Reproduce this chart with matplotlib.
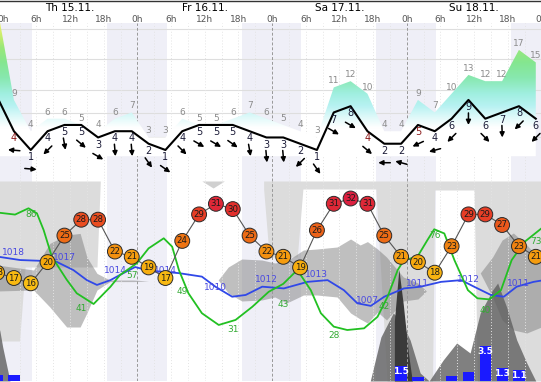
import numpy as np
import matplotlib.pyplot as plt
from matplotlib.colors import LinearSegmentedColormap, Normalize
from matplotlib.transforms import offset_copy

# hours since Thu 15.11. 0h
days = ["Th 15.11.", "Fr 16.11.", "Sa 17.11.", "Su 18.11."]
t3 = list(range(-1, 96, 3))

wind = [9.5, 4, 1, 4, 5, 5, 3, 4, 4, 2, 1, 4, 5, 5, 5, 4, 3,
        3, 2, 1, 7, 8, 4, 2, 2, 5, 4, 6, 9, 6, 7, 8, 6]
gust = [24, 9, 4, 6, 6, 5, 4, 6, 7, 3, 3, 6, 5, 5, 6, 7, 6,
        5, 4, 3, 11, 12, 10, 4, 4, 9, 7, 10, 13, 12, 12, 17, 15]
# direction the arrow points, degrees (0 = east, 90 = north)
wind_dir = [180, 175, -5, 225, 280, 320, 330, 275, 275, 305, 325, 315, 330, 330, 325, 280, 275,
            275, 225, 305, 330, 330, 320, 180, 165, 205, 195, 225, 270, 315, 272, 225, 225]
wind_red = [2, 65, 74]

temp = [18, 17, 16, 20, 25, 28, 28, 22, 21, 19, 17, 24, 29, 31, 30, 25, 22,
        21, 19, 26, 31, 32, 31, 25, 21, 20, 18, 23, 29, 29, 27, 23, 21]

precip_h = [-1, 2, 71, 74, 80, 83, 86, 89, 92]
precip = [0.6, 0.6, 1.5, 0.4, 0.5, 0.9, 3.5, 1.3, 1.1]

hum_h = [-1, 2.2, 4.6, 6.1, 7.3, 8.75, 11.4, 13.2, 16.2, 19.2, 20.9, 23.9, 26, 28.7, 30.2,
         31.4, 33.1, 35.5, 38.5, 41.5, 44.5, 47.4, 50, 52.5, 54.9, 56.7, 59, 61.4, 64.4,
         66.8, 68.6, 70.4, 71.5, 73.9, 75.7, 76.9, 78.7, 80.5, 82.9, 84.6, 86.7, 88.8,
         90.7, 93, 96]
hum = [84, 83, 86, 83.6, 75.6, 63, 52, 45.5, 40.4, 48.6, 54.2, 59.8, 66.9, 71.7, 67.7,
       56.6, 45.5, 36, 30.4, 32.8, 39.1, 46.2, 50, 56.6, 47, 36, 29.6, 28, 28.8,
       34.3, 43.9, 56.6, 61.3, 62.9, 70.9, 76, 74, 61.3, 47, 43.1, 42.6, 47,
       61.3, 70, 76.4]
hum_lab_h = [5, 14, 23, 32, 41, 50, 59, 68, 77, 86, 95]
hum_lab = [86, 41, 57, 49, 31, 43, 28, 42, 76, 40, 73]

pres_h = [-1, 3.1, 7.25, 9.6, 12.6, 15, 16.8, 19.2, 21.5, 23.6, 26, 31.4, 35.5, 37.9,
          40.9, 43.3, 46.25, 50.1, 54.3, 57.9, 60.8, 63.2, 65.6, 68, 71.5, 74.5, 78.1,
          81.7, 84, 87, 89.3, 91.6, 94.6, 96]
pres = [1018.2, 1017.4, 1017.2, 1017.0, 1015.1, 1012.8, 1011.7, 1012.8, 1014.4, 1015.8,
        1015.0, 1014.4, 1013.6, 1011.3, 1009.0, 1009.4, 1011.3, 1010.9, 1012.4, 1012.8,
        1010.5, 1007.5, 1006.9, 1009.0, 1010.9, 1011.3, 1012.4, 1012.8, 1011.3, 1009.4,
        1009.0, 1011.3, 1012.4, 1012.7]
pres_lab_h = [2, 11, 20, 29, 38, 47, 56, 65, 74, 83, 92]
pres_lab = [1018, 1017, 1014, 1014, 1010, 1012, 1013, 1007, 1011, 1012, 1011]

# cloud layers, level 0 (bottom) .. 100 (top of panel)
high_h = [-1, 3, 4, 16.8, 17.4]
high_lo = [20, 20, 57, 57, 100]
high2_h = [35.5, 37.5, 39.5]
high2_lo = [100, 96.5, 100]
high3_h = [46.5, 47.5, 52.5, 53.5, 66.5, 68.5, 76.6, 77.0, 84.0, 84.6, 97]
high3_lo = [96, 62, 62, 96, 96, 0, 0, 95.5, 95.5, 0, 0]

mid1_h = [-1, 5.5, 8.4, 11.4, 13.8, 15, 16.8, 19.1, 23.3, 26]
mid1_hi = [58, 55.5, 68.8, 73, 73.8, 62, 53.8, 50.5, 50.5, 50]
mid1_lo = [45, 45.5, 37, 27, 27, 34, 45.5, 49.7, 49.7, 50]
mid2_h = [38.4, 40.2, 42.6, 46.2, 48.5, 50.6, 53.6, 56, 59.6, 62, 63.7, 65, 66.8, 68.4,
          71.4, 74, 75.5]
mid2_hi = [50.5, 57, 61, 60.5, 59, 60, 65.5, 66, 67, 71, 68, 69.7, 66, 62, 52, 49, 45]
mid2_lo = [50.5, 44, 40, 40.5, 42, 39, 43, 43, 42, 34, 31, 29, 34.5, 30.5, 40, 41, 45]
mid3_h = [85.1, 87.3, 89, 91, 93.4, 96]
mid3_hi = [54, 62, 70.5, 74, 68, 60]
mid3_lo = [54, 42, 30.5, 25.5, 24, 27]

low_h = [-1, -0.5, 0, 1.3, 65.5, 67.4, 69.6, 71, 72.6, 74.4, 76, 78.5, 80.9, 83.3,
         85.1, 87.3, 88.2, 89.8, 91.6, 93.4, 95]
low_hi = [30, 25, 17, 0, 0, 22, 34, 30, 20.5, 4, 0, 10.5, 19, 14,
          34, 45.5, 49, 37, 20.5, 9, 0]
spike_h = [69.8, 70.6, 71.4, 72.3, 73.0]
spike_hi = [30, 56, 38, 14, 0]

X0, X1 = -0.48, 95.93
W_LIM = (-3.96, 21.3)
night = [(-2, 5.2), (18.6, 29.2), (42.6, 53.2), (66.6, 77.2), (90.6, 101)]

fig = plt.figure(figsize=(5.41, 3.82), dpi=100)

# header
hdr = fig.add_axes([0, 1 - 23 / 382, 1, 23 / 382])
hdr.set_xlim(X0, X1)
hdr.set_ylim(0, 1)
hdr.axis("off")
for i, d in enumerate(days):
    hdr.text(12 + 24 * i, 0.65, d, ha="center", va="center", fontsize=7.5)
for h in range(0, 97, 6):
    hdr.text(h, 0.17, f"{h % 24}h", ha="center", va="center", fontsize=6.5, color="#555555")
hdr.axhline(0.95, color="#333333", lw=1)


def night_bg(ax):
    for a, b in night:
        ax.axvspan(a, b, color="#efeff7", lw=0, zorder=0)


def grid_v(ax, z):
    for h in range(3, 96, 3):
        if h % 24 == 0:
            ax.axvline(h, color="#999999", lw=0.7, ls=(0, (3, 2)), zorder=z)
        else:
            ax.axvline(h, color="#e4e4e4", lw=0.7, ls=(0, (1, 2)), zorder=z)


# wind panel
axw = fig.add_axes([0, 1 - 181 / 382, 1, 158 / 382])
night_bg(axw)
grid_v(axw, 0.6)
for v in [20.36, 15.56, 10.6, 6.92, 3.08]:
    axw.axhline(v, color="#dedede", lw=0.8, zorder=0.5)

poly = axw.fill_between(t3, 0, gust, color="none")
gcol = LinearSegmentedColormap.from_list("gust", [
    (0, "white"), (4.5 / 24, "white"), (6 / 24, "#e4fafa"), (8 / 24, "#b8f2f2"),
    (10 / 24, "#a0efe0"), (12.5 / 24, "#88e8b0"), (15 / 24, "#84e690"),
    (17.5 / 24, "#9ae878"), (19.5 / 24, "#cdee6c"), (21.5 / 24, "#eef070"), (1, "#f8f070")])
grad = np.linspace(W_LIM[0], W_LIM[1], 400).reshape(-1, 1)
im = axw.imshow(grad, extent=[X0, X1, W_LIM[0], W_LIM[1]], origin="lower", aspect="auto",
                cmap=gcol, norm=Normalize(0, 24), zorder=1)
im.set_clip_path(poly.get_paths()[0], transform=axw.transData)

axw.plot(t3, wind, color="black", lw=1.5, zorder=3)
for h, w, g, a in zip(t3, wind, gust, wind_dir):
    if h < 0:
        continue
    axw.annotate(str(g), (h, g), xytext=(0, 1.5), textcoords="offset points",
                 ha="center", va="bottom", fontsize=6.5, color="#8c8c8c", zorder=4)
    col = "#8b1a1a" if h in wind_red else "#1c1c38"
    axw.annotate(str(w), (h, w), xytext=(0, -5.2), textcoords="offset points",
                 ha="center", va="center", fontsize=7, color=col, zorder=4)
    dx = np.cos(np.radians(a)) * 6
    dy = np.sin(np.radians(a)) * 6
    axw.annotate("", xy=(h, w), xycoords=offset_copy(axw.transData, x=dx, y=-19 + dy, units="dots"),
                 xytext=(h, w), textcoords=offset_copy(axw.transData, x=-dx, y=-19 - dy, units="dots"),
                 arrowprops=dict(arrowstyle="-|>", color="black", lw=1.1, mutation_scale=7,
                                 shrinkA=0, shrinkB=0), zorder=4)
axw.set_xlim(X0, X1)
axw.set_ylim(*W_LIM)
axw.axis("off")

# lower panel: clouds
rect = [0, 1 / 382, 1, 200 / 382]
axc = fig.add_axes(rect, label="clouds")
night_bg(axc)
axc.fill_between(high_h, high_lo, 100, color="#dcdcdc", lw=0, zorder=1)
axc.fill_between(high2_h, high2_lo, 100, color="#d0d0d0", lw=0, zorder=1)
axc.fill_between(high3_h, high3_lo, 100, color="#dcdcdc", lw=0, zorder=1)
for hh, lo, hi in [(mid1_h, mid1_lo, mid1_hi), (mid2_h, mid2_lo, mid2_hi), (mid3_h, mid3_lo, mid3_hi)]:
    axc.fill_between(hh, lo, hi, color="#808080", alpha=0.5, lw=0, zorder=2)
axc.fill_between(low_h, 0, low_hi, color="#606060", alpha=0.8, lw=0, zorder=3)
axc.fill_between(spike_h, 0, spike_hi, color="#3a3a3a", lw=0, zorder=3.5)
grid_v(axc, 3.8)
axc.set_xlim(X0, X1)
axc.set_ylim(0, 100)
axc.axis("off")

# precipitation
axr = fig.add_axes(rect, label="precip")
axr.bar(precip_h, precip, width=2, color="#1a1aff", zorder=2)
for h, p in zip(precip_h, precip):
    if p >= 1:
        axr.annotate(f"{p:.1f}", (h, p), xytext=(0, -0.8), textcoords="offset points",
                     ha="center", va="top", fontsize=6.5, color="white", fontweight="bold")
axr.set_xlim(X0, X1)
axr.set_ylim(0, 20)
axr.axis("off")

# pressure
axp = fig.add_axes(rect, label="pressure")
axp.plot(pres_h, pres, color="#3048e8", lw=1.3)
for h, p in zip(pres_lab_h, pres_lab):
    axp.text(h, p, str(p), ha="center", va="bottom", fontsize=6.5, color="#4a4ae0")
axp.set_xlim(X0, X1)
axp.set_ylim(989.7, 1035.5)
axp.axis("off")

# humidity
axh = fig.add_axes(rect, label="humidity")
axh.plot(hum_h, hum, color="#22c022", lw=1.3)
for h, v in zip(hum_lab_h, hum_lab):
    axh.annotate(str(v), (h, v), xytext=(0, -1), textcoords="offset points",
                 ha="center", va="top", fontsize=6.5, color="#33aa33")
axh.set_xlim(X0, X1)
axh.set_ylim(3.7, 99)
axh.axis("off")

# temperature
axt = fig.add_axes(rect, label="temperature")
tcol = LinearSegmentedColormap.from_list("temp", [
    (0, "#f9be14"), (4 / 16, "#f7a90e"), (6 / 16, "#f39010"), (8 / 16, "#ee7412"),
    (10 / 16, "#ec6218"), (12 / 16, "#ea4e20"), (14 / 16, "#e2302c"), (1, "#dc2040")])
axt.plot(t3, temp, color="#555555", lw=0.8, zorder=2)
axt.scatter(t3, temp, s=115, c=temp, cmap=tcol, vmin=16, vmax=32,
            edgecolors="#2a2a2a", linewidths=0.7, zorder=3)
for h, t in zip(t3, temp):
    axt.text(h, t, str(t), ha="center", va="center", fontsize=6.2, color="#1a1a1a", zorder=4)
axt.set_xlim(X0, X1)
axt.set_ylim(-2.43, 35.3)
axt.axis("off")

fig.savefig("out.png", dpi=100)
